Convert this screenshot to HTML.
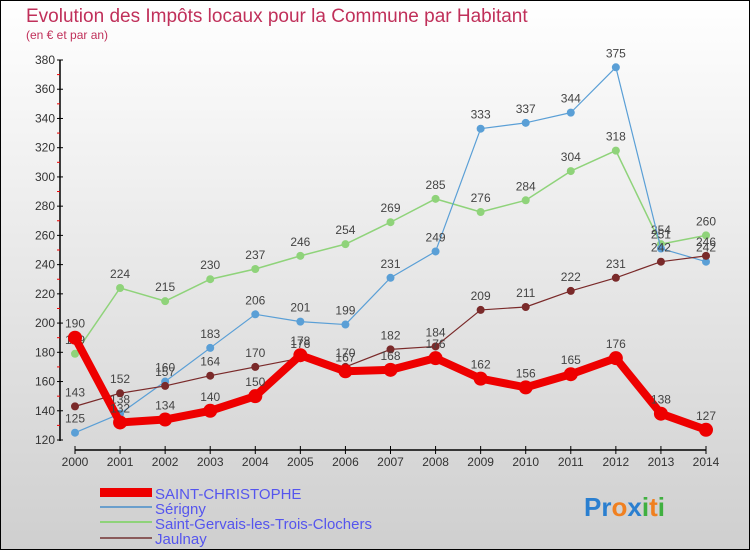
<!DOCTYPE html>
<html><head><meta charset="utf-8"><style>
body{margin:0}
#c{width:750px;height:550px;position:relative;overflow:hidden;font-family:"Liberation Sans",sans-serif;}
</style></head><body>
<div id="c">
<svg id="s" width="750" height="550" xmlns="http://www.w3.org/2000/svg">
<defs><linearGradient id="bg" x1="0" y1="0" x2="0" y2="1"><stop offset="0" stop-color="#ffffff"/><stop offset="1" stop-color="#cfcfcf"/></linearGradient></defs>
<rect x="0.5" y="0.5" width="749" height="549" fill="url(#bg)" stroke="#000"/>
<text x="26" y="22" font-size="19" fill="#c0305a">Evolution des Impôts locaux pour la Commune par Habitant</text>
<text x="26" y="39" font-size="12" fill="#c0305a">(en € et par an)</text>
<g id="axes"></g><g id="series"></g>
<g>
<rect x="100" y="488" width="52" height="9" fill="#ee0000"/>
<rect x="100" y="506" width="52" height="2" fill="#6a9fcc"/>
<rect x="100" y="521" width="52" height="2" fill="#8fd37a"/>
<rect x="100" y="537" width="52" height="2" fill="#8a5a5a"/>
<text x="155" y="499" font-size="15" fill="#5555ee">SAINT-CHRISTOPHE</text>
<text x="155" y="514" font-size="15" fill="#5555ee">Sérigny</text>
<text x="155" y="529" font-size="15" fill="#5555ee">Saint-Gervais-les-Trois-Clochers</text>
<text x="155" y="544" font-size="15" fill="#5555ee">Jaulnay</text>
</g>
<text x="584" y="516" font-size="26" font-weight="bold"><tspan fill="#2a7fd0">Pr</tspan><tspan fill="#f08020">o</tspan><tspan fill="#2a7fd0">x</tspan><tspan fill="#40b040">i</tspan><tspan fill="#f08020">t</tspan><tspan fill="#40b040">i</tspan></text>
</svg></div>
<script>
const years=[2000,2001,2002,2003,2004,2005,2006,2007,2008,2009,2010,2011,2012,2013,2014];
const yTicks=[120,140,160,180,200,220,240,260,280,300,320,340,360,380];
const stChristophe=[190,132,134,140,150,178,167,168,176,162,156,165,176,138,127];
const serigny=[125,138,160,183,206,201,199,231,249,333,337,344,375,251,242];
const stGervais=[179,224,215,230,237,246,254,269,285,276,284,304,318,254,260];
const jaulnay=[143,152,157,164,170,176,170,182,184,209,211,222,231,242,246];
const NS="http://www.w3.org/2000/svg";
const X=i=>75+i*(706-75)/(years.length-1);
const Y=v=>440-(v-120)*(380/260);
function mk(p,t,a){const e=document.createElementNS(NS,t);for(const k in a)e.setAttribute(k,a[k]);p.appendChild(e);return e;}
const ax=document.getElementById('axes');
let l=mk(ax,'line',{x1:60,y1:60,x2:60,y2:441,stroke:'#000','stroke-width':1.5});


l=mk(ax,'line',{x1:75,y1:450,x2:706,y2:450,stroke:'#000','stroke-width':1.5});


yTicks.forEach((v,i)=>{
 mk(ax,'line',{x1:57,x2:63,y1:Y(v),y2:Y(v),stroke:'#000'});
 if(i<yTicks.length-1)mk(ax,'line',{x1:57,x2:60,y1:Y(v+10),y2:Y(v+10),stroke:'#e00'});
 const t=mk(ax,'text',{x:55,y:Y(v)+4,'font-size':12,fill:'#333','text-anchor':'end'});t.textContent=v;
 
 
});
years.forEach((y,i)=>{
 mk(ax,'line',{x1:X(i),x2:X(i),y1:446,y2:454,stroke:'#000'});
 const t=mk(ax,'text',{x:X(i),y:466,'font-size':12,fill:'#333','text-anchor':'middle'});t.textContent=y;
 
 
});
const sg=document.getElementById('series');
function draw(data,color,w,r,name){
 const g=mk(sg,'g',{});
 
 
 mk(g,'polyline',{points:data.map((v,i)=>X(i)+','+Y(v)).join(' '),fill:'none',stroke:color,'stroke-width':w,'stroke-linejoin':'round'});
 data.forEach((v,i)=>{
  const c=mk(g,'circle',{cx:X(i),cy:Y(v),r:r,fill:color});
  
  
  const t=mk(g,'text',{x:X(i),y:Y(v)-10,'font-size':12,fill:'#444','text-anchor':'middle'});t.textContent=v;
  
  
 });
}
draw(stGervais,'#8fd37a',1.5,4,'saint-gervais');
draw(serigny,'#5a9fd6',1.2,4,'serigny');
draw(jaulnay,'#7a2a2a',1.2,4,'jaulnay');
draw(stChristophe,'#ee0000',8,7,'saint-christophe');
</script>
</body></html>
